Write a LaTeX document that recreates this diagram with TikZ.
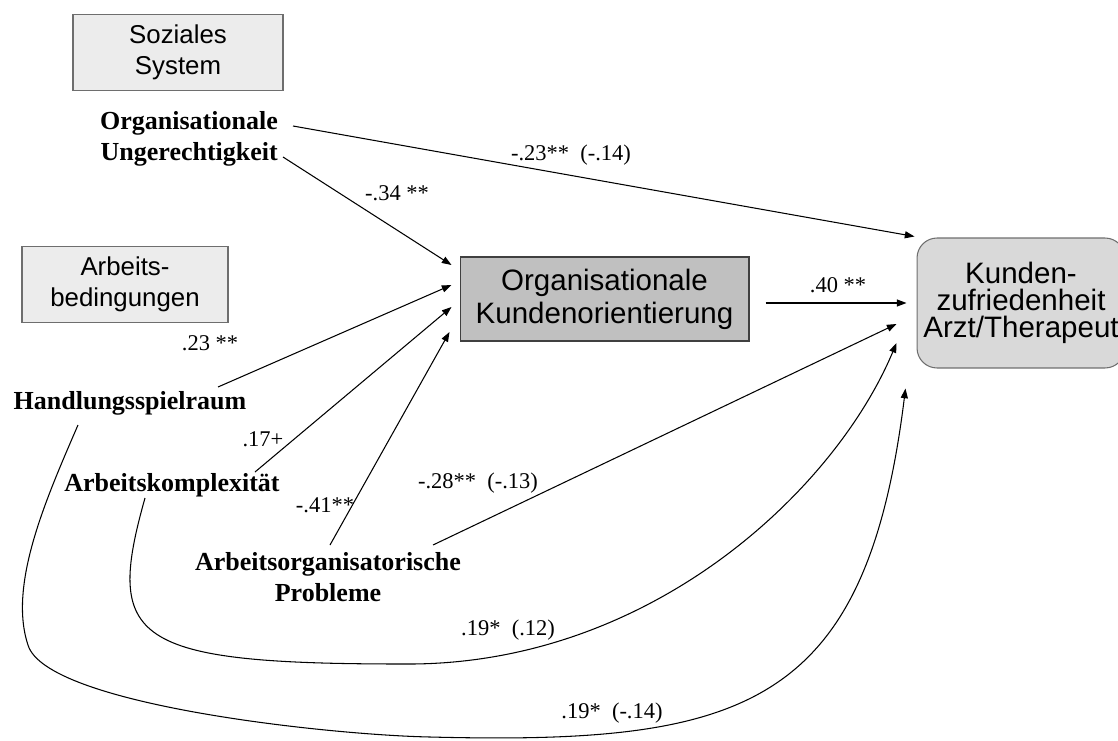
\documentclass[tikz,border=0pt]{standalone}
\usepackage{fontspec}
\setmainfont{Liberation Serif}
\newfontfamily\boxfont{Liberation Sans}
\usetikzlibrary{arrows.meta,calc}

\definecolor{paleframe}{HTML}{6E6E6E}
\definecolor{palefill}{HTML}{ECECEC}
\definecolor{midfill}{HTML}{C0C0C0}
\definecolor{critfill}{HTML}{D9D9D9}

\begin{document}
\begin{tikzpicture}[
    x=0.02cm, y=-0.02cm,
    sysbox/.style={rectangle, draw=paleframe, fill=palefill, line width=0.6pt, minimum height=1.52cm, align=center, font=\boxfont\fontsize{14.7}{17.8}\selectfont},
    varlab/.style={inner sep=0pt, font=\bfseries\fontsize{14.8}{17.5}\selectfont},
    coef/.style={inner sep=0pt, font=\fontsize{12.8}{15}\selectfont},
    medbox/.style={rectangle, draw=black!75, fill=midfill, line width=0.6pt, minimum width=5.78cm, minimum height=1.68cm, align=center, font=\boxfont\fontsize{16.8}{18.7}\selectfont},
    critbox/.style={rectangle, rounded corners=0.4cm, draw=paleframe, fill=critfill, line width=0.6pt, minimum width=4.16cm, minimum height=2.6cm, align=center, font=\boxfont\fontsize{16.8}{15.5}\selectfont},
    arrow/.style={-{Triangle[length=5.5pt,width=4pt]}, line width=0.6pt}
]
    \useasboundingbox (0,0) rectangle (1118,740);

    % blocks on the left
    \node[sysbox, minimum width=4.2cm] (soz) at (178,52.5) {Soziales\\System};
    \node[sysbox, minimum width=4.12cm] (arb) at (125,284.5) {Arbeits-\\bedingungen};

    % predictors
    \node[varlab, align=right] (ung) at (189,139) {Organisationale\\Ungerechtigkeit};
    \node[varlab] (hsp) at (130,403) {Handlungsspielraum};
    \node[varlab] (akx) at (172,485) {Arbeitskomplexität};
    \node[varlab, align=center] (aop) at (328,577) {Arbeitsorganisatorische\\Probleme};

    % mediator and outcome
    \node[medbox] (oko) at (604.5,299) {Organisationale\\Kundenorientierung};
    \node[critbox] (kzf) at (1021,303) {Kunden-\\zufriedenheit\\Arzt/Therapeut};

    % paths
    \draw[arrow] ($(ung.center)+(104,-13)$) -- ($(kzf.north west)+(-2,-1)$);
    \draw[arrow] ($(ung.center)+(94,18)$) -- ($(oko.west)+(-8,-34)$);
    \draw[arrow] ($(hsp.center)+(88,-16)$) -- ($(oko.west)+(-8,-14)$);
    \draw[arrow] ($(akx.center)+(83,-13)$) -- ($(oko.west)+(-8,8)$);
    \draw[arrow] ($(aop.center)+(2,-32)$) -- ($(oko.west)+(-10,33)$);
    \draw[arrow] ($(oko.east)+(16,4)$) -- ($(kzf.west)+(-10,0)$);
    \draw[arrow] ($(aop.center)+(105,-32)$) -- ($(kzf.west)+(-20,21)$);
    \draw[arrow] ($(akx.center)+(-27,13)$) .. controls (105,640) and (130,664) .. (404,664)
        .. controls (650,666) and (835,490) .. ($(kzf.west)+(-20,40)$);
    \draw[arrow] ($(hsp.center)+(-52,22)$) .. controls (46,499) and (8,585) .. (28,645)
        .. controls (46,705) and (330,735) .. (430,737)
        .. controls (745,745) and (866,708) .. ($(kzf.south west)+(-11,20)$);

    % coefficients
    \node[coef] (c1) at (571,155) {-.23**\ \ (-.14)};
    \node[coef] (c2) at (397,193) {-.34 **};
    \node[coef] (c3) at (210,343) {.23 **};
    \node[coef] (c4) at (263,439) {.17+};
    \node[coef] (c5) at (325,505) {-.41**};
    \node[coef] (c6) at (838,285) {.40 **};
    \node[coef] (c7) at (478,483) {-.28**\ \ (-.13)};
    \node[coef] (c8) at (508,630) {.19*\ \ (.12)};
    \node[coef] (c9) at (612,713) {.19*\ \ (-.14)};
\end{tikzpicture}
\end{document}
